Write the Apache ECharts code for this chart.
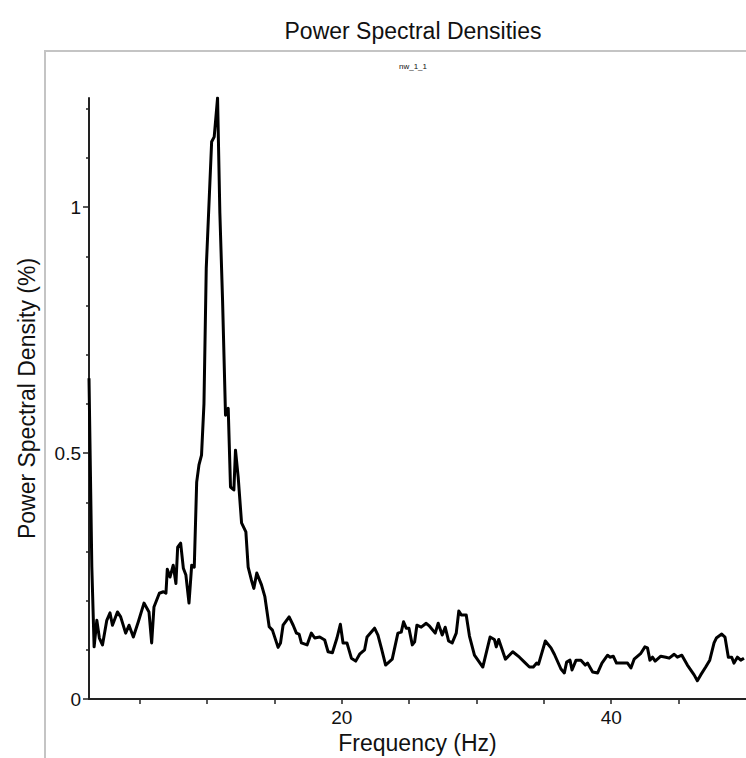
<!DOCTYPE html>
<html><head><meta charset="utf-8">
<script src="https://cdn.jsdelivr.net/npm/echarts@6/dist/echarts.min.js"></script>
<style>html,body{margin:0;padding:0;background:#fff}#c{width:746px;height:758px}</style>
</head><body><div id="c"></div>
<script>
const chartTitle = 'Power Spectral Densities';
const subTitle = 'nw_1_1';
const xName = 'Frequency (Hz)';
const yName = 'Power Spectral Density (%)';

const freqHz = [
  1.25, 1.46, 1.63, 1.83, 2.02, 2.25, 2.57, 2.81, 2.99, 3.36, 3.6, 3.97, 4.22, 4.54, 4.91,
  5.33, 5.7, 5.9, 6.07, 6.47, 6.77, 6.96, 7.06, 7.26, 7.5, 7.7, 7.83, 8.05, 8.25, 8.44,
  8.67, 8.87, 9.06, 9.24, 9.41, 9.6, 9.78, 9.95, 10.35, 10.54, 10.79, 10.96, 11.16, 11.38, 11.58,
  11.75, 12.0, 12.12, 12.32, 12.57, 12.89, 13.06, 13.3, 13.48, 13.7, 14.05, 14.3, 14.62, 14.86, 15.28,
  15.46, 15.65, 16.1, 16.4, 16.64, 16.84, 17.01, 17.43, 17.75, 18.0, 18.37, 18.74, 18.99, 19.31, 19.65,
  19.9, 20.1, 20.39, 20.72, 21.04, 21.33, 21.7, 21.88, 22.44, 22.69, 22.94, 23.26, 23.75, 24.17, 24.42,
  24.59, 24.79, 24.99, 25.24, 25.41, 25.58, 25.9, 26.27, 26.52, 26.94, 27.16, 27.46, 27.68, 27.93, 28.2,
  28.5, 28.69, 28.87, 29.24, 29.48, 29.85, 30.47, 31.01, 31.33, 31.47, 31.65, 32.15, 32.69, 33.19, 33.56,
  33.93, 34.22, 34.47, 34.61, 35.11, 35.53, 35.78, 36.27, 36.52, 36.69, 36.94, 37.09, 37.39, 37.75, 38.07,
  38.24, 38.62, 38.99, 39.31, 39.73, 39.9, 40.15, 40.39, 40.84, 41.21, 41.46, 41.7, 42.2, 42.5, 42.69,
  42.87, 43.06, 43.26, 43.68, 44.05, 44.3, 44.67, 44.91, 45.24, 45.65, 46.15, 46.39, 46.64, 47.01, 47.31,
  47.63, 47.8, 48.2, 48.44, 48.69, 48.94, 49.11, 49.36, 49.61, 49.85
];
const psdPct = [
  0.652, 0.268, 0.106, 0.160, 0.124, 0.110, 0.160, 0.175, 0.150, 0.177, 0.167, 0.134, 0.150, 0.126, 0.157,
  0.195, 0.177, 0.114, 0.187, 0.215, 0.218, 0.215, 0.264, 0.248, 0.272, 0.235, 0.309, 0.317, 0.266, 0.252,
  0.195, 0.272, 0.268, 0.441, 0.476, 0.496, 0.600, 0.876, 1.133, 1.143, 1.222, 0.988, 0.811, 0.577, 0.591,
  0.431, 0.425, 0.506, 0.451, 0.358, 0.340, 0.268, 0.242, 0.225, 0.256, 0.232, 0.208, 0.147, 0.140, 0.105,
  0.114, 0.150, 0.167, 0.150, 0.134, 0.132, 0.114, 0.110, 0.134, 0.124, 0.126, 0.120, 0.096, 0.094, 0.124,
  0.152, 0.114, 0.114, 0.083, 0.077, 0.091, 0.100, 0.126, 0.144, 0.130, 0.104, 0.069, 0.081, 0.134, 0.136,
  0.157, 0.144, 0.144, 0.110, 0.116, 0.150, 0.146, 0.154, 0.148, 0.134, 0.154, 0.130, 0.146, 0.118, 0.114,
  0.134, 0.179, 0.171, 0.171, 0.128, 0.089, 0.065, 0.126, 0.121, 0.106, 0.121, 0.081, 0.096, 0.085, 0.075,
  0.065, 0.065, 0.073, 0.071, 0.118, 0.104, 0.091, 0.061, 0.053, 0.075, 0.079, 0.059, 0.079, 0.079, 0.069,
  0.073, 0.055, 0.053, 0.073, 0.089, 0.085, 0.087, 0.073, 0.073, 0.073, 0.063, 0.081, 0.093, 0.106, 0.104,
  0.079, 0.085, 0.077, 0.087, 0.085, 0.083, 0.091, 0.085, 0.089, 0.069, 0.049, 0.037, 0.049, 0.065, 0.079,
  0.114, 0.124, 0.132, 0.126, 0.085, 0.085, 0.073, 0.085, 0.079, 0.083
];

const xTickValues = [5, 10, 15, 20, 25, 30, 35, 40, 45];
const xLabelValues = [20, 40];
const yTickValues = [0, 0.5, 1];
const yLabelValues = [0, 0.5, 1];
const xMin = 1.25, xMax = 50, yMin = 0, yMax = 1.222;

const FONT = "'Liberation Sans', Arial, sans-serif";
const chart = echarts.init(document.getElementById('c'), null, {renderer: 'svg'});

chart.setOption({
  animation: false,
  backgroundColor: '#ffffff',
  graphic: [
    {type: 'rect', silent: true, z: -10,
     shape: {x: 45, y: 51, width: 760, height: 760},
     style: {fill: 'none', stroke: '#c4c4c4', lineWidth: 2}},
    {type: 'text', x: 413, y: 31,
     style: {text: chartTitle, fill: '#111', font: '23px ' + FONT, align: 'center', verticalAlign: 'middle'}},
    {type: 'text', x: 413, y: 66,
     style: {text: subTitle, fill: '#111', font: '8px ' + FONT, align: 'center', verticalAlign: 'middle'}}
  ],
  grid: {left: 89, top: 98, right: 0, bottom: 59, containLabel: false, outerBoundsMode: 'none'},
  xAxis: {
    type: 'value', min: xMin, max: xMax,
    name: xName, nameLocation: 'middle', nameGap: 30,
    nameTextStyle: {fontFamily: FONT, fontSize: 23, color: '#111'},
    axisLine: {show: true, onZero: false, lineStyle: {color: '#222', width: 2}},
    axisTick: {show: true, inside: false, length: 5, customValues: xTickValues, lineStyle: {color: '#222', width: 1.5}},
    axisLabel: {show: true, customValues: xLabelValues, margin: 9, fontFamily: FONT, fontSize: 19, color: '#111'},
    splitLine: {show: false}
  },
  yAxis: {
    type: 'value', min: yMin, max: yMax, interval: 0.5,
    name: yName, nameLocation: 'middle', nameGap: 51, nameRotate: 90,
    nameTextStyle: {fontFamily: FONT, fontSize: 23, color: '#111'},
    axisLine: {show: true, lineStyle: {color: '#222', width: 2}},
    axisTick: {show: true, inside: false, length: 6, customValues: yTickValues, lineStyle: {color: '#222', width: 1.5}},
    minorTick: {show: true, splitNumber: 5, length: 3, lineStyle: {color: '#222', width: 1.5}},
    axisLabel: {show: true, customValues: yLabelValues, margin: 8, fontFamily: FONT, fontSize: 19, color: '#111'},
    splitLine: {show: false},
    minorSplitLine: {show: false}
  },
  series: [{
    type: 'line',
    data: freqHz.map((f, i) => [f, psdPct[i]]),
    showSymbol: false, symbol: 'none', smooth: false,
    lineStyle: {color: '#000', width: 3, join: 'round'},
    clip: true
  }]
});
</script>
</body></html>
